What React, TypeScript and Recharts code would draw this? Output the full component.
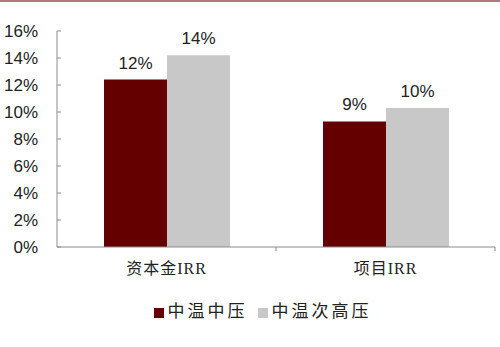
import { Bar, BarChart, LabelList, Legend, XAxis, YAxis } from 'recharts'

const CATEGORIES = ['资本金IRR', '项目IRR']
const MID_PRESSURE = [12.4, 9.3]
const SUB_HIGH_PRESSURE = [14.2, 10.3]
const Y_TICKS = [0, 2, 4, 6, 8, 10, 12, 14, 16]

const SERIES = [
  { key: 'mid', name: '中温中压', values: MID_PRESSURE, color: '#640000' },
  { key: 'subHigh', name: '中温次高压', values: SUB_HIGH_PRESSURE, color: '#c8c8c8' },
]

const data = CATEGORIES.map((category, i) => ({
  category,
  mid: MID_PRESSURE[i],
  subHigh: SUB_HIGH_PRESSURE[i],
}))

const WIDTH = 500
const HEIGHT = 347
const MARGIN = { top: 31, right: 5, left: 0, bottom: 0 }
const Y_AXIS_WIDTH = 57
const PLOT_WIDTH = WIDTH - MARGIN.left - MARGIN.right - Y_AXIS_WIDTH
const HALF_BAND = PLOT_WIDTH / CATEGORIES.length / 2

const AXIS_COLOR = '#8c8c8c'
const LATIN = '"Liberation Sans", Arial, sans-serif'
const CJK = '"Liberation Serif", "Noto Sans CJK SC", serif'

// category label plus a short upward tick at the right edge of each band
function CategoryTick(props: any) {
  const { x, y, payload } = props
  const edge = x + HALF_BAND
  return (
    <g>
      <line x1={edge} x2={edge} y1={y - 8} y2={y - 4} stroke={AXIS_COLOR} />
      <text x={x} y={y + 19} textAnchor="middle" fontFamily={CJK} fontSize={16} letterSpacing={1} fill="#222">
        {payload.value}
      </text>
    </g>
  )
}

export default function App() {
  return (
    <div style={{ position: 'absolute', left: 0, top: 0, width: WIDTH, height: HEIGHT, background: '#fff' }}>
      <div style={{ position: 'absolute', left: 0, top: 0, width: WIDTH, height: 2, background: '#b47878' }} />
      <BarChart width={WIDTH} height={HEIGHT} data={data} margin={MARGIN} barGap={0}>
        <XAxis
          dataKey="category"
          axisLine={{ stroke: AXIS_COLOR }}
          tickLine={false}
          tickSize={4}
          tickMargin={4}
          tick={<CategoryTick />}
          height={44}
        />
        <YAxis
          width={Y_AXIS_WIDTH}
          domain={[0, 16]}
          ticks={Y_TICKS}
          interval={0}
          tickFormatter={(v) => `${v}%`}
          axisLine={{ stroke: AXIS_COLOR }}
          tickLine={{ stroke: AXIS_COLOR }}
          tickSize={-4}
          tickMargin={23}
          tick={{ fontSize: 17, fill: '#222', fontFamily: LATIN }}
        />
        <Legend
          verticalAlign="bottom"
          height={50}
          iconType="square"
          iconSize={10}
          wrapperStyle={{ paddingTop: 6, paddingLeft: 20 }}
          formatter={(value) => (
            <span style={{ color: '#222', fontFamily: CJK, fontSize: 17, letterSpacing: 3 }}>
              {value}
            </span>
          )}
        />
        {SERIES.map((s) => (
          <Bar key={s.key} dataKey={s.key} name={s.name} fill={s.color} barSize={63} isAnimationActive={false}>
            <LabelList
              dataKey={s.key}
              position="top"
              offset={11}
              formatter={(v: any) => `${Math.round(Number(v))}%`}
              style={{ fontSize: 17, fill: '#222', fontFamily: LATIN }}
            />
          </Bar>
        ))}
      </BarChart>
    </div>
  )
}
